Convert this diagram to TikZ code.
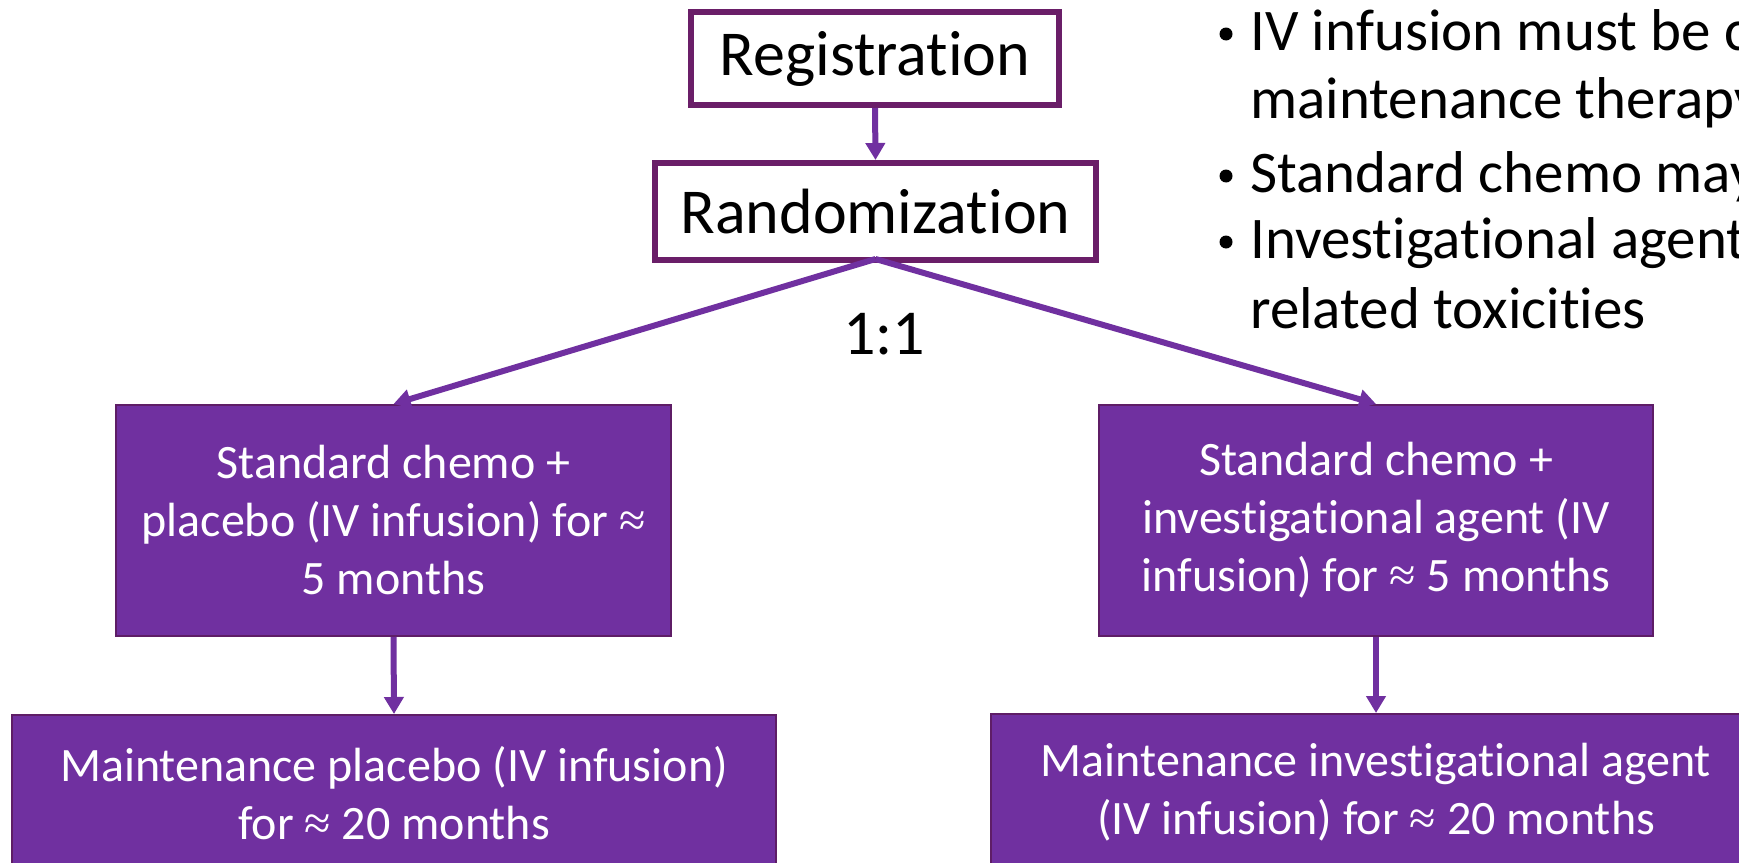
\documentclass[tikz,border=0pt]{standalone}
\usepackage{fontspec}
\setmainfont{Carlito}[Ligatures=NoCommon]
\newfontfamily\apxfont{Liberation Serif}
\usetikzlibrary{arrows.meta}
\definecolor{pfill}{HTML}{7030A0}
\definecolor{pborder}{HTML}{6A1E68}
\definecolor{pthin}{HTML}{5E1D66}
\newcommand{\apx}{{\apxfont ≈}}
\begin{document}
\begin{tikzpicture}[x=1pt,y=-1pt,
  topbox/.style={draw=pborder, line width=6pt, fill=white, inner sep=0pt, font=\fontsize{64}{76}\selectfont},
  armbox/.style={draw=pthin, line width=2pt, fill=pfill, text=white, align=center, inner sep=0pt, font=\fontsize{48}{58}\selectfont},
  conn/.style={draw=pfill, line width=6pt, -{Triangle[length=17pt,width=19pt]}},
  bultext/.style={anchor=base west, inner sep=0pt, font=\fontsize{59}{70}\selectfont},
  bulmark/.style={circle, fill=black, inner sep=0pt, minimum size=13pt},
]
\clip (0,0) rectangle (1739,862);
\fill[white] (0,0) rectangle (1739,862);

\node[topbox, minimum width=368pt, minimum height=93pt] (reg) at (875,58.5) {Registration};
\node[topbox, minimum width=441pt, minimum height=97pt] (rand) at (875.5,211.5) {Randomization};

\node[armbox, minimum width=555pt, minimum height=231pt] (L1) at (393.5,520.5) {Standard chemo +\\placebo (IV infusion) for \apx\\5 months};
\node[armbox, minimum width=764pt, minimum height=156pt] (L2) at (394,793) {Maintenance placebo (IV infusion)\\for \apx{} 20 months};
\node[armbox, minimum width=554pt, minimum height=231pt] (R1) at (1376,520.5) {Standard chemo +\\investigational agent (IV\\infusion) for \apx{} 5 months};
\node[armbox, minimum width=770pt, minimum height=157pt] (R2) at (1376,792.5) {Maintenance investigational agent\\(IV infusion) for \apx{} 20 months};

\node[inner sep=0pt, font=\fontsize{64}{70}\selectfont] (ratio) at (884,334) {1:1};

\draw[conn] (reg.south) -- (rand.north);
\draw[conn] ([yshift=4pt]rand.south) -- (L1.north);
\draw[conn] ([yshift=4pt]rand.south) -- (R1.north);
\draw[conn] (L1.south) -- (L2.north);
\draw[conn] (R1.south) -- (R2.north);

\node[bulmark] (b1) at (1226,34) {};
\node[bultext] (t1a) at (1250,50) {IV infusion must be c};
\node[bultext] (t1b) at (1250,118) {maintenance therapy};
\node[bulmark] (b2) at (1226,176) {};
\node[bultext] (t2) at (1250,192) {Standard chemo may};
\node[bulmark] (b3) at (1226,242) {};
\node[bultext] (t3a) at (1250,258) {Investigational agent};
\node[bultext] (t3b) at (1250,328) {related toxicities};
\end{tikzpicture}
\end{document}
